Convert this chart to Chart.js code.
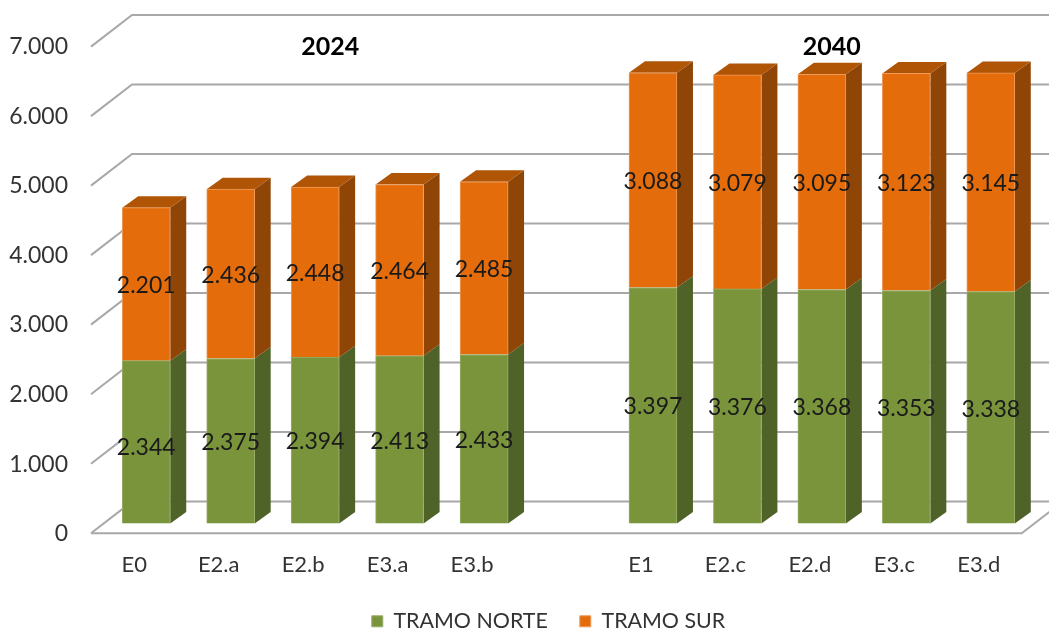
<!DOCTYPE html>
<html lang="es">
<head>
<meta charset="utf-8">
<title>Tramo Norte y Tramo Sur</title>
<script src="https://cdn.jsdelivr.net/npm/chart.js@4"></script>
<style>
  html, body { margin: 0; padding: 0; background: #fff; overflow: hidden; }
  canvas { display: block; }
</style>
</head>
<body>
<canvas id="grafico" width="1049" height="629"></canvas>
<script>
// Datos: la categoria vacia separa los grupos 2024 y 2040
const categorias = ["E0", "E2.a", "E2.b", "E3.a", "E3.b", "", "E1", "E2.c", "E2.d", "E3.c", "E3.d"];
const tramoNorte = [2344, 2375, 2394, 2413, 2433, null, 3397, 3376, 3368, 3353, 3338];
const tramoSur = [2201, 2436, 2448, 2464, 2485, null, 3088, 3079, 3095, 3123, 3145];
const anios = ["2024", "2040"];

const fuente = "Lato, Carlito, sans-serif";
const colorGrid = "#a8a8a8";

// Profundidad de las barras y de las paredes del grafico
const barraDx = 16, barraDy = -11.5;
const frenteDy = 9.6, fondoDx = 41, fondoDy = -22;

function formatoMiles(v) {
  return String(v).replace(/\B(?=(\d{3})+$)/g, ".");
}

function poligono(ctx, puntos, color) {
  ctx.fillStyle = color;
  ctx.beginPath();
  puntos.forEach((p, i) => (i ? ctx.lineTo(p[0], p[1]) : ctx.moveTo(p[0], p[1])));
  ctx.closePath();
  ctx.fill();
}

// Paredes, suelo y caras laterales, por detras de las barras
const fondo3d = {
  id: "fondo3d",
  afterLayout(chart) {
    chart.legend.left += 32;
    chart.legend.right += 32;
    chart.legend.top += 1;
  },
  beforeDatasetsDraw(chart) {
    const { ctx, scales } = chart;
    const izq = 91, der = 1021.7;
    ctx.save();
    ctx.strokeStyle = colorGrid;
    ctx.lineWidth = 2;
    scales.y.ticks.forEach((t) => {
      const y = scales.y.getPixelForValue(t.value);
      ctx.beginPath();
      ctx.moveTo(izq, y + frenteDy);
      ctx.lineTo(izq + fondoDx, y + fondoDy);
      ctx.lineTo(chart.width + 20, y + fondoDy);
      ctx.stroke();
    });
    // Borde delantero y lateral derecho del suelo
    const y0 = scales.y.getPixelForValue(0);
    ctx.beginPath();
    ctx.moveTo(izq, y0 + frenteDy);
    ctx.lineTo(der, y0 + frenteDy);
    ctx.lineTo(der + fondoDx, y0 + fondoDy);
    ctx.stroke();

    const lados = ["#4f6228", "#8f4505"];
    chart.data.datasets.forEach((ds, d) => {
      chart.getDatasetMeta(d).data.forEach((b, i) => {
        if (ds.data[i] == null) return;
        const r = b.x + b.width / 2, l = b.x - b.width / 2;
        poligono(ctx, [[r, b.y], [r + barraDx, b.y + barraDy], [r + barraDx, b.base + barraDy], [r, b.base]], lados[d]);
        if (d === chart.data.datasets.length - 1) {
          poligono(ctx, [[l, b.y], [l + barraDx, b.y + barraDy], [r + barraDx, b.y + barraDy], [r, b.y]], "#b05406");
        }
      });
    });
    ctx.restore();
  },
  afterDatasetsDraw(chart) {
    const { ctx, scales } = chart;
    ctx.save();
    ctx.textAlign = "center";
    ctx.textBaseline = "middle";
    ctx.fillStyle = "#1a1a1a";
    ctx.font = "23px " + fuente;
    chart.data.datasets.forEach((ds, d) => {
      chart.getDatasetMeta(d).data.forEach((b, i) => {
        if (ds.data[i] == null) return;
        // La etiqueta de E0 en el tramo norte va un poco mas abajo
        const extra = d === 0 && i === 0 ? 5 : 1.5;
        ctx.fillText(formatoMiles(ds.data[i]), b.x, (b.y + b.base) / 2 + extra);
      });
    });
    // Titulos de cada grupo
    ctx.fillStyle = "#000";
    ctx.font = "bold 25px " + fuente;
    ctx.fillText(anios[0], scales.x.getPixelForValue(2) + 15, 47);
    ctx.fillText(anios[1], scales.x.getPixelForValue(8) + 10, 47);
    ctx.restore();
  },
};

new Chart(document.getElementById("grafico"), {
  type: "bar",
  data: {
    labels: categorias,
    datasets: [
      { label: "TRAMO NORTE", data: tramoNorte, backgroundColor: "#7a943c", borderColor: "#98ae68", borderWidth: 1 },
      { label: "TRAMO SUR", data: tramoSur, backgroundColor: "#e46c0a", borderColor: "#ee9c5c", borderWidth: 1 },
    ],
  },
  plugins: [fondo3d],
  options: {
    responsive: false,
    animation: false,
    barThickness: 48,
    layout: { padding: { left: 0, right: 16, top: 37, bottom: -12 } },
    scales: {
      x: {
        stacked: true,
        grid: { display: false },
        border: { display: false },
        afterFit(s) { s.height = 54; },
        ticks: {
          autoSkip: false,
          maxRotation: 0,
          labelOffset: -12,
          padding: 20,
          color: "#333333",
          font: { family: fuente, size: 22 },
        },
      },
      y: {
        stacked: true,
        min: 0,
        max: 7000,
        grid: { display: false },
        border: { display: false },
        afterFit(s) {
          s.width = 104;
          s.paddingTop = 0;
          s.paddingBottom = 0;
        },
        ticks: {
          stepSize: 1000,
          padding: 28,
          labelOffset: 10,
          color: "#333333",
          font: { family: fuente, size: 23 },
          callback: (v) => formatoMiles(v),
        },
      },
    },
    plugins: {
      tooltip: { enabled: false },
      legend: {
        position: "bottom",
        labels: {
          boxWidth: 11,
          boxHeight: 11,
          padding: 32,
          color: "#333333",
          font: { family: fuente, size: 21.4 },
        },
      },
    },
  },
});
</script>
</body>
</html>
